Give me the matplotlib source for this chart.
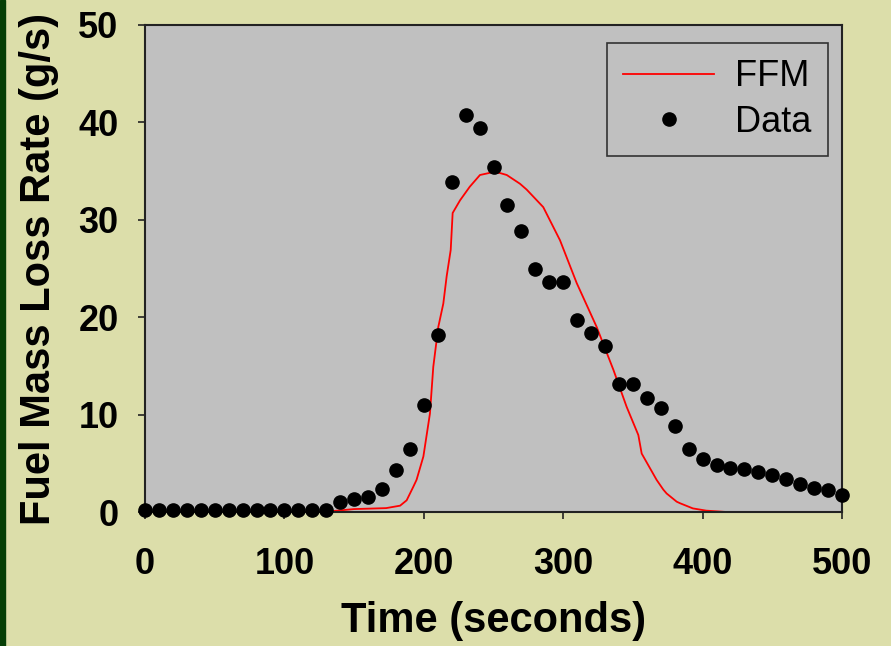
import numpy as np
import matplotlib
matplotlib.use("Agg")
import matplotlib.pyplot as plt
from matplotlib import patches

# measured data points (every 10 s)
data_t = np.arange(0, 510, 10)
data_v = [0.2, 0.2, 0.2, 0.2, 0.2, 0.2, 0.2, 0.2, 0.2, 0.2,
          0.2, 0.2, 0.2, 0.2, 1.0, 1.3, 1.5, 2.4, 4.3, 6.5,
          11.0, 18.2, 33.9, 40.8, 39.4, 35.4, 31.5, 28.8, 24.9, 23.6,
          23.6, 19.7, 18.4, 17.0, 13.1, 13.1, 11.7, 10.7, 8.8, 6.5,
          5.4, 4.8, 4.5, 4.4, 4.1, 3.8, 3.4, 2.9, 2.5, 2.3,
          1.7]

# FFM model curve
ffm_t = [0, 130, 135, 150, 168.6, 173, 183, 187.7, 192.5, 194.8, 199.7,
         204.4, 206.8, 210.4, 214, 216.4, 219.3, 220.7, 226, 233, 240.3,
         249.9, 254.7, 259.5, 269, 273.8, 285.7, 297.7, 309.7, 324, 336,
         345.5, 353.9, 356.3, 367, 371.8, 374.2, 381.4, 383.8, 393, 402.6, 417]
ffm_v = [0, 0, 0.1, 0.3, 0.38, 0.4, 0.65, 1.2, 2.6, 3.3, 5.7,
         10.1, 14.9, 19.0, 21.4, 24.2, 26.9, 30.7, 32.0, 33.4, 34.6,
         34.9, 34.8, 34.6, 33.7, 33.1, 31.3, 27.9, 23.5, 19.0, 14.6,
         10.8, 7.9, 6.0, 3.3, 2.3, 1.9, 1.06, 0.9, 0.37, 0.14, 0]

bg = '#dcdeaa'
fig = plt.figure(figsize=(8.91, 6.46), dpi=100, facecolor=bg)
# dark green stripe on the left edge
fig.patches.append(patches.Rectangle((0, 0), 5/891, 1, transform=fig.transFigure,
                                     color='#063f06', zorder=0))
ax = fig.add_axes([145/891, 1-512/646, 697/891, 487/646])
ax.set_facecolor('#c0c0c0')

ax.plot(ffm_t, ffm_v, color='#ff0000', lw=1.3, label='FFM', zorder=2)
ax.plot(data_t, data_v, 'o', color='black', ms=9.5, label='Data', zorder=3, clip_on=False)

ax.set_xlim(0, 500)
ax.set_ylim(0, 50)
ax.set_xticks([0, 100, 200, 300, 400, 500])
ax.set_yticks([0, 10, 20, 30, 40, 50])
ax.tick_params(direction='out', length=5, width=1.2, colors='#222222',
               labelsize=26, labelcolor='black')
ax.tick_params(axis='x', pad=20)
ax.tick_params(axis='y', pad=14)
for lab in ax.get_xticklabels() + ax.get_yticklabels():
    lab.set_family('Liberation Sans')
    lab.set_weight('bold')
for s in ax.spines.values():
    s.set_color('#222222')
    s.set_linewidth(1.5)

ax.set_xlabel('Time (seconds)', fontsize=30, fontweight='bold',
              family='Liberation Sans', labelpad=14)
ax.set_ylabel('Fuel Mass Loss Rate (g/s)', fontsize=30, fontweight='bold',
              family='Liberation Sans', labelpad=14)

leg = ax.legend(loc='upper right', bbox_to_anchor=(828/891, 1-43/646),
                bbox_transform=fig.transFigure, borderaxespad=0,
                fancybox=False, framealpha=1,
                facecolor='#c0c0c0', edgecolor='#333333',
                prop={'family': 'Liberation Sans', 'size': 26},
                handlelength=2.5, handletextpad=0.6, borderpad=0.45,
                labelspacing=0.3, numpoints=1)
leg.get_frame().set_linewidth(1.2)

fig.savefig('out.png', dpi=100, facecolor=bg)
